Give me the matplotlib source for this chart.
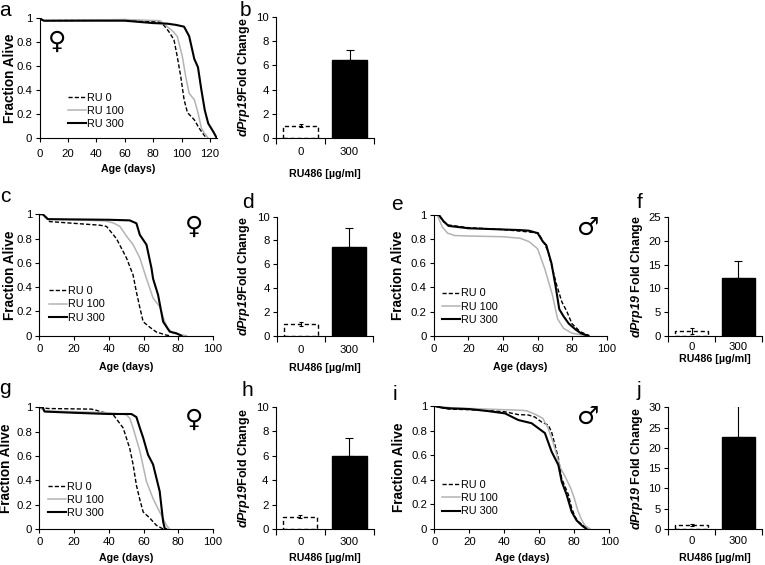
import matplotlib
matplotlib.use('Agg')
import matplotlib.pyplot as plt

plt.rcParams['font.family'] = ['Liberation Sans', 'DejaVu Sans']
plt.rcParams['mathtext.fontset'] = 'custom'
plt.rcParams['mathtext.rm'] = 'Liberation Sans:italic:bold'
plt.rcParams['mathtext.it'] = 'Liberation Sans:italic:bold'

# ---- survival curves (day, fraction alive) ----
a_ru0_day = [0, 3, 60, 84, 87.7, 91, 94.7, 97, 99.5, 101.8, 104.2, 109, 112.4, 116, 117.5]
a_ru0_frac = [1, 0.98, 0.985, 0.97, 0.94, 0.89, 0.82, 0.68, 0.51, 0.32, 0.21, 0.15, 0.08, 0.02, 0]
a_ru100_day = [0, 3, 60, 85, 90, 94, 97, 100.6, 103, 105.4, 109, 111.6, 114, 116, 118.6]
a_ru100_frac = [1, 0.98, 0.99, 0.98, 0.93, 0.89, 0.85, 0.68, 0.51, 0.37, 0.32, 0.21, 0.08, 0.04, 0]
a_ru300_day = [0, 3, 40, 60, 70, 80, 90, 96, 101.8, 105.4, 109, 111.6, 114, 116.4, 118.8, 122.4, 124.7]
a_ru300_frac = [1, 0.98, 0.98, 0.98, 0.97, 0.96, 0.955, 0.945, 0.93, 0.85, 0.66, 0.59, 0.40, 0.23, 0.12, 0.05, 0]

c_ru0_day = [0, 2, 6, 15.7, 35, 38.7, 44.4, 50.2, 54, 55.9, 57.9, 59.8, 63.6, 67.4, 73.2, 75]
c_ru0_frac = [1, 1, 0.94, 0.93, 0.91, 0.90, 0.80, 0.64, 0.50, 0.36, 0.23, 0.115, 0.07, 0.03, 0.005, 0]
c_ru100_day = [0, 2, 5, 30, 38, 42.5, 46.4, 50.2, 54, 57.9, 61.7, 65.5, 69.3, 72.2, 74.1, 77, 84.7]
c_ru100_frac = [1, 1, 0.96, 0.95, 0.945, 0.93, 0.90, 0.82, 0.75, 0.64, 0.47, 0.31, 0.24, 0.115, 0.06, 0.02, 0]
c_ru300_day = [0, 2, 5, 40, 52, 55.9, 57.9, 61.7, 64.6, 65.5, 68.4, 71.3, 75.1, 78.9, 81.8]
c_ru300_frac = [1, 1, 0.96, 0.955, 0.95, 0.926, 0.83, 0.75, 0.555, 0.47, 0.335, 0.115, 0.033, 0.02, 0]

e_ru0_day = [0, 3, 5.6, 8.5, 20, 39.3, 54.7, 60.5, 64, 66, 69, 71, 74, 76.9, 79.8, 84.6, 90]
e_ru0_frac = [1, 1, 0.945, 0.917, 0.895, 0.88, 0.86, 0.85, 0.76, 0.70, 0.53, 0.42, 0.28, 0.2, 0.1, 0.033, 0]
e_ru100_day = [0, 2, 5, 8, 12, 20, 40, 50, 55, 60, 64, 68.5, 71.5, 75, 80, 88]
e_ru100_frac = [1, 1, 0.9, 0.85, 0.83, 0.826, 0.82, 0.807, 0.78, 0.72, 0.56, 0.34, 0.14, 0.06, 0.02, 0]
e_ru300_day = [0, 3, 5.6, 8.5, 20, 50, 55, 60, 63, 65, 68, 70.5, 72.5, 75, 78, 82, 85, 89]
e_ru300_frac = [1, 1, 0.95, 0.91, 0.89, 0.875, 0.87, 0.85, 0.78, 0.75, 0.6, 0.4, 0.22, 0.16, 0.1, 0.05, 0.02, 0]

g_ru0_day = [0, 5, 30, 33, 34.9, 42.5, 48.3, 52.1, 54, 55.9, 57.9, 59.8, 63.6, 67.4, 71.3]
g_ru0_frac = [1, 0.99, 0.985, 0.975, 0.965, 0.94, 0.83, 0.66, 0.53, 0.36, 0.24, 0.14, 0.09, 0.03, 0]
g_ru100_day = [0, 3, 30, 40, 50, 52.1, 54, 57.9, 61.7, 65.5, 69.3, 73.2, 75]
g_ru100_frac = [1, 0.97, 0.96, 0.955, 0.94, 0.91, 0.83, 0.64, 0.39, 0.25, 0.14, 0.03, 0]
g_ru300_day = [0, 2, 3, 20, 40, 53, 55.9, 57.9, 59.8, 62.6, 65.5, 67.4, 69.3, 71.3, 72.2, 73]
g_ru300_frac = [1, 1, 0.965, 0.955, 0.945, 0.945, 0.92, 0.83, 0.75, 0.61, 0.53, 0.42, 0.31, 0.06, 0.005, 0]

i_ru0_day = [0, 5, 8, 20, 40, 48, 53.7, 57.5, 61.3, 65.1, 67, 69, 70.9, 72.8, 76.6, 78.5, 80.4, 82.3, 86, 88]
i_ru0_frac = [1, 0.985, 0.975, 0.97, 0.954, 0.93, 0.927, 0.91, 0.87, 0.845, 0.79, 0.68, 0.575, 0.41, 0.28, 0.17, 0.10, 0.06, 0.02, 0]
i_ru100_day = [0, 10, 30, 50, 53, 58, 62, 65, 68, 70, 72, 75, 78, 80, 82, 84, 86, 89]
i_ru100_frac = [1, 0.985, 0.975, 0.965, 0.96, 0.93, 0.90, 0.82, 0.70, 0.60, 0.50, 0.42, 0.33, 0.25, 0.15, 0.08, 0.03, 0]
i_ru300_day = [0, 5, 10, 20, 30, 40.4, 48, 55.6, 63.2, 67, 70.9, 72.8, 75.6, 78.5, 81.3, 84.2, 87]
i_ru300_frac = [1, 0.985, 0.98, 0.975, 0.96, 0.94, 0.886, 0.86, 0.78, 0.63, 0.52, 0.385, 0.28, 0.14, 0.07, 0.03, 0]

# ---- qPCR bars ----
bar_labels = ['0', '300']
b_mean, b_err = [1.0, 6.45], [0.1, 0.85]
d_mean, d_err = [1.0, 7.45], [0.15, 1.6]
f_mean, f_err = [1.0, 12.2], [0.7, 3.6]
h_mean, h_err = [1.0, 6.0], [0.12, 1.4]
j_mean, j_err = [1.0, 22.7], [0.25, 7.6]

W, H = 765, 565
fig = plt.figure(figsize=(W / 100, H / 100), dpi=100)
FS = 8.2  # tick labels, pt


def px_axes(left, right, top, bottom):
    ax = fig.add_axes([left / W, 1 - bottom / H, (right - left) / W, (bottom - top) / H])
    ax._wpx, ax._hpx = right - left, bottom - top
    return ax


def style(ax):
    for s in ['top', 'right']:
        ax.spines[s].set_visible(False)
    for s in ['left', 'bottom']:
        ax.spines[s].set_linewidth(0.8)
    ax.tick_params(direction='out', length=3, width=0.8, labelsize=FS)
    ax.tick_params(axis='y', pad=2.2)


def place_labels(ax, xlab_dy, ylab_dx):
    ax.xaxis.label.set_va('center')
    ax.yaxis.label.set_va('center')
    ax.xaxis.set_label_coords(0.5, -xlab_dy / ax._hpx)
    ax.yaxis.set_label_coords(-ylab_dx / ax._wpx, 0.5)


def survival(ax, curves, xmax, sex, sex_xy, leg_xy, tick_pad, xlab_dy, ylab_dx):
    ru0, ru100, ru300 = curves
    ax.plot(*ru0, color='black', lw=1.0, ls=(0, (3, 1.5)), label='RU 0')
    ax.plot(*ru100, color='#b3b3b3', lw=1.1, label='RU 100')
    ax.plot(*ru300, color='black', lw=1.5, label='RU 300')
    ax.set_xlim(0, xmax)
    ax.set_ylim(0, 1)
    ax.set_xticks(range(0, int(xmax) + 1, 20))
    ax.set_yticks([0, 0.2, 0.4, 0.6, 0.8, 1])
    ax.set_yticklabels(['0', '0.2', '0.4', '0.6', '0.8', '1'])
    style(ax)
    ax.tick_params(axis='x', pad=tick_pad)
    ax.set_xlabel('Age (days)', fontweight='bold', fontsize=7.7)
    ax.set_ylabel('Fraction Alive', fontweight='bold', fontsize=9.8)
    place_labels(ax, xlab_dy, ylab_dx)
    ax.legend(loc='center left', bbox_to_anchor=leg_xy, frameon=False, fontsize=7.8,
              handlelength=1.7, handletextpad=0.05, labelspacing=0.3, borderpad=0, borderaxespad=0)
    ax.text(sex_xy[0], sex_xy[1], sex, transform=ax.transAxes, fontsize=18,
            family='DejaVu Sans', ha='center', va='center')


def bars(ax, mean, err, ymax, ystep, ylabel, tick_pad, xlab_dy, ylab_dx):
    ax.bar(0, mean[0], width=0.7, facecolor='white', edgecolor='black', lw=1.0, ls=(0, (3, 2)))
    ax.bar(1, mean[1], width=0.7, facecolor='black', edgecolor='black', lw=1.0)
    ax.errorbar(0, mean[0], yerr=err[0], color='black', lw=0.8, capsize=1.5, capthick=0.8)
    ax.errorbar(1, mean[1], yerr=[[0], [err[1]]], color='black', lw=0.8, capsize=3, capthick=0.8)
    ax.set_xlim(-0.5, 1.5)
    ax.set_ylim(0, ymax)
    ax.set_yticks(range(0, ymax + 1, ystep))
    ax.set_xticks([0, 1])
    ax.set_xticklabels(bar_labels)
    ax.set_xticks([-0.5, 0.5, 1.5], minor=True)
    style(ax)
    ax.tick_params(axis='x', which='major', length=0, pad=tick_pad)
    ax.tick_params(axis='x', which='minor', direction='out', length=4, width=0.8)
    ax.set_xlabel('RU486 [µg/ml]', fontweight='bold', fontsize=7.7)
    ax.set_ylabel(ylabel, fontweight='bold', fontsize=9)
    place_labels(ax, xlab_dy, ylab_dx)


lab1 = r'$\mathrm{dPrp19}$Fold Change'
lab2 = r'$\mathrm{dPrp19}$ Fold Change'

ax = px_axes(39.5, 217, 18.3, 137.7)
survival(ax, [(a_ru0_day, a_ru0_frac), (a_ru100_day, a_ru100_frac), (a_ru300_day, a_ru300_frac)],
         125, '♀', (0.1, 0.8), (0.16, 0.224), 5, 31, 29.5)
ax = px_axes(276, 374, 17.3, 137.7)
bars(ax, b_mean, b_err, 10, 2, lab1, 7, 36, 32)

ax = px_axes(39.3, 213, 214.3, 335.7)
survival(ax, [(c_ru0_day, c_ru0_frac), (c_ru100_day, c_ru100_frac), (c_ru300_day, c_ru300_frac)],
         100, '♀', (0.89, 0.9), (0.056, 0.258), 3, 31, 29)
ax = px_axes(277, 373, 216.7, 335.7)
bars(ax, d_mean, d_err, 10, 2, lab1, 7, 32, 33)

ax = px_axes(433.7, 606.9, 215, 335.7)
survival(ax, [(e_ru0_day, e_ru0_frac), (e_ru100_day, e_ru100_frac), (e_ru300_day, e_ru300_frac)],
         100, '♂', (0.89, 0.89), (0.046, 0.24), 3, 31, 36)
ax = px_axes(668.3, 761.7, 217.3, 335.7)
bars(ax, f_mean, f_err, 25, 5, lab2, 4.8, 23.3, 31)

ax = px_axes(39.3, 213, 407.3, 529)
survival(ax, [(g_ru0_day, g_ru0_frac), (g_ru100_day, g_ru100_frac), (g_ru300_day, g_ru300_frac)],
         100, '♀', (0.89, 0.9), (0.05, 0.238), 3, 29, 33)
ax = px_axes(275.7, 374, 406.7, 529)
bars(ax, h_mean, h_err, 10, 2, lab1, 5.5, 29, 32)

ax = px_axes(434.3, 609.3, 406, 529)
survival(ax, [(i_ru0_day, i_ru0_frac), (i_ru100_day, i_ru100_frac), (i_ru300_day, i_ru300_frac)],
         100, '♂', (0.88, 0.915), (0.042, 0.25), 3, 29, 35)
ax = px_axes(668.3, 761.7, 407.3, 529)
bars(ax, j_mean, j_err, 30, 5, lab2, 4.8, 28.7, 31)

# panel letters
for letter, x, y in [('a', 5, 10), ('b', 245, 10), ('c', 5, 197), ('d', 248, 203),
                     ('e', 397, 205), ('f', 640, 202), ('g', 5, 389), ('h', 247, 391),
                     ('i', 395, 394), ('j', 639, 391)]:
    fig.text(x / W, 1 - y / H, letter, fontsize=15, ha='center', va='center')

fig.savefig('out.png', dpi=100)
